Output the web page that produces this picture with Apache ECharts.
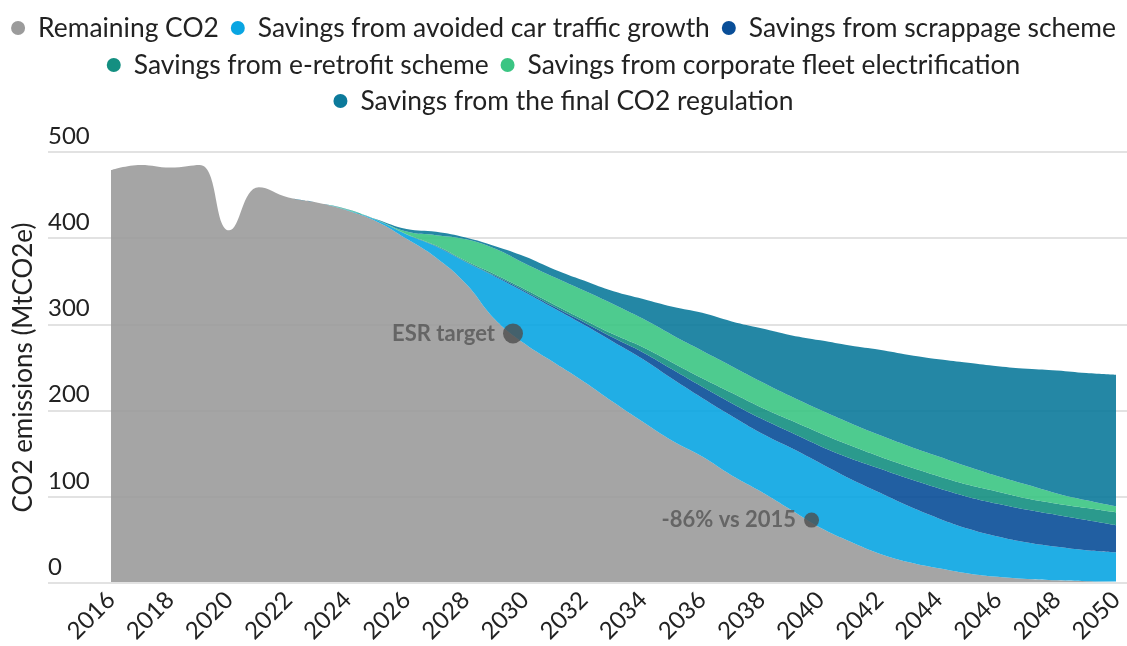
<!DOCTYPE html>
<html>
<head>
<meta charset="utf-8">
<script src="https://cdn.jsdelivr.net/npm/echarts@6/dist/echarts.min.js"></script>
<style>
  html, body { margin: 0; padding: 0; background: #fff; }
  #chart1 { width: 1127px; height: 646px; }
</style>
</head>
<body>
<div id="chart1"></div>
<script>
// years on the x axis
const years = ['2016', '2017', '2018', '2019', '2020', '2021', '2022', '2023', '2024', '2025', '2026', '2027', '2028',
    '2029', '2030', '2031', '2032', '2033', '2034', '2035', '2036', '2037', '2038', '2039', '2040', '2041', '2042',
    '2043', '2044', '2045', '2046', '2047', '2048', '2049', '2050'];

// stacked layers, MtCO2e
const remaining = [479, 485, 482, 485, 409, 459, 447, 441, 432, 419, 399, 377, 347, 305, 277, 255, 233,
    209, 186, 164, 146, 124, 105, 84, 63, 47, 33, 23, 16, 10, 6, 3.5, 2, 1, 0.5];
const avoidedTraffic = [0, 0, 0, 0, 0, 0, 0, 0, 0.5, 1.5, 5, 13, 25, 50, 60, 63, 66,
    70, 73, 72, 68, 69, 68, 72, 75, 73, 71, 65, 58, 52, 47, 42.5, 39, 36, 34];
const scrappage = [0, 0, 0, 0, 0, 0, 0, 0, 0, 0, 0, 0.3, 0.5, 1, 1.5, 2, 3,
    5, 8, 11, 13, 15, 17, 18, 20, 24, 28, 32, 35, 37, 38, 38, 37, 35, 31.5];
const eRetrofit = [0, 0, 0, 0, 0, 0, 0, 0, 0, 0, 0.5, 1, 1, 1.5, 2, 2.5, 3,
    4, 6, 8, 10, 12, 13, 14, 15, 15, 14, 14, 14, 14, 14, 13, 13, 14, 15];
const corporateFleet = [0, 0, 0, 0, 0, 0, 0, 0, 0.5, 0.5, 3, 12, 25, 30, 30, 32, 34,
    35, 33, 32, 32, 31, 30, 28, 27, 26, 25, 24, 23, 21, 18, 16, 12, 9, 7];
const finalRegulation = [0, 0, 0, 0, 0, 0, 0, 0, 0.5, 0.5, 3, 4, 2, 3, 8, 9, 11.5,
    15, 23, 33, 44, 52, 62, 71, 81, 90, 99, 106, 113, 121, 128, 135, 143, 148, 153];

// annotated points
const markerNames = ['ESR target', '-86% vs 2015'];
const markerYears = [2029.6, 2039.7];
const markerValues = [289, 72];

const seriesList = [
    { name: 'Remaining CO2', data: remaining, color: '#9b9b9b' },
    { name: 'Savings from avoided car traffic growth', data: avoidedTraffic, color: '#09a5e2' },
    { name: 'Savings from scrappage scheme', data: scrappage, color: '#094e98' },
    { name: 'Savings from e-retrofit scheme', data: eRetrofit, color: '#148f81' },
    { name: 'Savings from corporate fleet electrification', data: corporateFleet, color: '#3bc583' },
    { name: 'Savings from the final CO2 regulation', data: finalRegulation, color: '#0c7a9b' }
];

const FONT = 'Lato';

function initChart() {
    const chartDom = document.getElementById('chart1');
    const myChart = echarts.init(chartDom);

    const legendBase = {
        left: 'center',
        icon: 'circle',
        itemWidth: 14,
        itemHeight: 14,
        itemGap: 12,
        textStyle: { fontFamily: FONT, fontSize: 26.4, color: '#222', padding: [0, 0, 0, 8] }
    };
    const names = seriesList.map(s => s.name);

    const option = {
        backgroundColor: '#fff',
        animation: false,
        legend: [
            Object.assign({}, legendBase, { top: 10, data: names.slice(0, 3) }),
            Object.assign({}, legendBase, { top: 47, data: names.slice(3, 5) }),
            Object.assign({}, legendBase, { top: 83, data: names.slice(5) })
        ],
        grid: [
            // data area
            { left: 111, right: 11, top: 152, bottom: 63 },
            // wider area that only carries the grid lines and y labels
            { left: 48, right: 0, top: 152, bottom: 63 }
        ],
        xAxis: [
            {
                type: 'category', gridIndex: 0, data: years, boundaryGap: false,
                axisLine: { show: false }, axisTick: { show: false }, splitLine: { show: false },
                axisLabel: { interval: 1, rotate: 45, fontFamily: FONT, fontSize: 24, color: '#222', margin: 14 }
            },
            { type: 'value', gridIndex: 1, min: 0, max: 1, show: false },
            // overlay for the annotation points, placed by year
            { type: 'value', gridIndex: 0, min: 2016, max: 2050, show: false }
        ],
        yAxis: [
            { type: 'value', gridIndex: 0, min: 0, max: 500, interval: 100, show: false },
            {
                type: 'value', gridIndex: 1, min: 0, max: 500, interval: 100,
                name: 'CO2 emissions (MtCO2e)', nameLocation: 'middle', nameGap: 7,
                nameTextStyle: { fontFamily: FONT, fontSize: 26, color: '#222' },
                axisLine: { show: false }, axisTick: { show: false },
                splitLine: { lineStyle: { color: '#d9d9d9', width: 1.5 } },
                axisLabel: {
                    inside: true, margin: 0, verticalAlign: 'bottom', padding: [0, 0, 4, 0],
                    fontFamily: FONT, fontSize: 24, color: '#222'
                }
            }
        ],
        series: seriesList.map(s => ({
            name: s.name,
            type: 'line',
            stack: 'total',
            smooth: 0.45,
            showSymbol: false,
            color: s.color,
            lineStyle: { width: 0 },
            areaStyle: { color: s.color, opacity: 0.9 },
            emphasis: { disabled: true },
            data: s.data
        })).concat([{
            name: 'markers',
            type: 'scatter',
            xAxisIndex: 2,
            yAxisIndex: 0,
            z: 10,
            data: markerNames.map((n, i) => ({
                name: n,
                value: [markerYears[i], markerValues[i]],
                symbolSize: i === 0 ? 20 : 15
            })),
            itemStyle: { color: '#4d4d4d' },
            label: {
                show: true, position: 'left', distance: 8, formatter: '{b}',
                fontFamily: FONT, fontSize: 22, fontWeight: 'bold', color: '#555'
            }
        }])
    };
    myChart.setOption(option);
    window.addEventListener('resize', () => myChart.resize());
}

if (document.readyState === 'loading') {
    document.addEventListener('DOMContentLoaded', initChart);
} else {
    initChart();
}
</script>
</body>
</html>
